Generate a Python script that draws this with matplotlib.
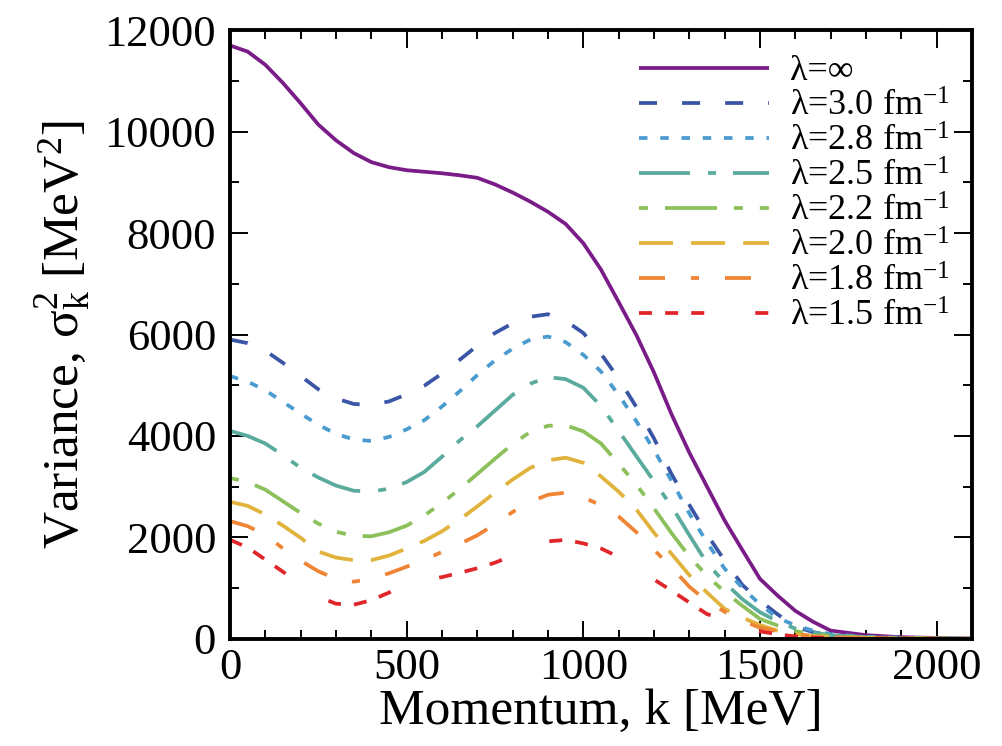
import matplotlib
matplotlib.use("Agg")
import matplotlib.pyplot as plt
from matplotlib.ticker import MultipleLocator

plt.rcParams['font.family'] = ['Liberation Serif', 'DejaVu Serif']
plt.rcParams['mathtext.fontset'] = 'custom'
plt.rcParams['mathtext.rm'] = 'Liberation Serif'
plt.rcParams['mathtext.it'] = 'Liberation Serif:italic'
plt.rcParams['lines.scale_dashes'] = False

# Momentum grid [MeV]
k = [0, 50, 100, 150, 200, 250, 300, 350, 400, 450, 500, 550, 600, 650, 700,
     750, 800, 850, 900, 950, 1000, 1050, 1100, 1150, 1200, 1250, 1300, 1350,
     1400, 1450, 1500, 1550, 1600, 1650, 1700, 1800, 1900, 2000, 2100]

# Variance sigma_k^2 [MeV^2] for each cutoff
var_inf = [11700, 11580, 11320, 10960, 10560, 10140, 9830, 9580, 9400, 9300, 9240,
           9210, 9180, 9140, 9090, 8960, 8800, 8620, 8420, 8180, 7800, 7280, 6640,
           5990, 5250, 4420, 3670, 3000, 2330, 1750, 1180, 850, 550, 335, 160,
           70, 30, 15, 5]
var_30 = [5900, 5830, 5680, 5440, 5180, 4920, 4740, 4630, 4610, 4680, 4820, 4990,
          5230, 5500, 5780, 6030, 6220, 6350, 6400, 6270, 6030, 5620, 5130, 4570,
          3950, 3240, 2640, 2060, 1540, 1060, 750, 480, 240, 130, 65, 30, 15, 8, 4]
var_28 = [5180, 5070, 4900, 4670, 4440, 4220, 4040, 3930, 3900, 3980, 4130, 4310,
          4580, 4880, 5200, 5490, 5720, 5900, 5960, 5850, 5600, 5270, 4810, 4290,
          3720, 3110, 2470, 1900, 1380, 1005, 675, 408, 265, 160, 90, 40, 20, 10, 5]
var_25 = [4100, 4000, 3850, 3620, 3370, 3180, 3020, 2920, 2900, 2960, 3090, 3290,
          3590, 3910, 4190, 4500, 4810, 5030, 5160, 5120, 4950, 4590, 4100, 3600,
          3105, 2610, 2044, 1488, 1108, 780, 522, 340, 200, 120, 70, 30, 15, 8, 4]
var_22 = [3170, 3090, 2940, 2710, 2480, 2270, 2110, 2030, 2020, 2100, 2230, 2430,
          2680, 2950, 3250, 3550, 3840, 4080, 4200, 4210, 4090, 3850, 3450, 3042,
          2571, 2080, 1622, 1239, 925, 649, 390, 260, 150, 90, 50, 25, 12, 6, 3]
var_20 = [2700, 2620, 2450, 2230, 1990, 1720, 1600, 1550, 1550, 1640, 1780, 1930,
          2120, 2350, 2610, 2880, 3140, 3370, 3520, 3570, 3470, 3200, 2900, 2550,
          2090, 1670, 1255, 910, 590, 415, 271, 158, 92, 55, 30, 15, 8, 4, 2]
var_18 = [2320, 2220, 2050, 1780, 1540, 1330, 1180, 1125, 1180, 1290, 1420, 1560,
          1710, 1870, 2040, 2260, 2500, 2700, 2840, 2880, 2790, 2630, 2410, 2102,
          1754, 1407, 1026, 739, 532, 355, 216, 150, 90, 50, 30, 15, 8, 4, 2]
var_15 = [1950, 1800, 1560, 1320, 1060, 830, 690, 670, 760, 910, 1090, 1160,
          1215, 1300, 1390, 1500, 1640, 1800, 1920, 1950, 1880, 1780, 1612, 1390,
          1168, 947, 714, 486, 375, 262, 145, 88, 45, 25, 15, 8, 4, 2, 1]

labels = [r'λ=∞', r'λ=3.0 fm$^{\mathregular{-1}}$', r'λ=2.8 fm$^{\mathregular{-1}}$',
          r'λ=2.5 fm$^{\mathregular{-1}}$', r'λ=2.2 fm$^{\mathregular{-1}}$',
          r'λ=2.0 fm$^{\mathregular{-1}}$', r'λ=1.8 fm$^{\mathregular{-1}}$',
          r'λ=1.5 fm$^{\mathregular{-1}}$']

series = [var_inf, var_30, var_28, var_25, var_22, var_20, var_18, var_15]
colors = ['#7a1c88', '#3b55a6', '#4a9bd0', '#5aab9d', '#8cc05a', '#e1b33c',
          '#ef8434', '#e1262b']
dash_patterns = [None,
                 (13, 18),
                 (6.1, 9.2),
                 (36.7, 13, 5.8, 12.2),
                 (6.5, 12.2, 37.4, 12.2, 6.5, 12.2),
                 (24.5, 13),
                 (18.7, 18.7, 5.8, 18.7),
                 (9.4, 9.4, 9.4, 9.4, 9.4, 36.7)]

fig = plt.figure(figsize=(10.03, 7.46), dpi=100)
ax = fig.add_axes([0.2293, 0.1438, 0.7398, 0.8156])

for y, c, d, lab in zip(series, colors, dash_patterns, labels):
    line, = ax.plot(k, y, color=c, lw=2.7, label=lab, solid_capstyle='butt',
                    dash_capstyle='butt')
    if d is not None:
        line.set_dashes(d)

ax.set_xlim(0, 2100)
ax.set_ylim(0, 12000)
ax.xaxis.set_major_locator(MultipleLocator(500))
ax.xaxis.set_minor_locator(MultipleLocator(100))
ax.yaxis.set_major_locator(MultipleLocator(2000))
ax.yaxis.set_minor_locator(MultipleLocator(1000))
ax.tick_params(which='both', direction='in', top=True, right=True, width=1.4,
               labelsize=32, color='black')
ax.tick_params(which='major', length=13, pad=7)
ax.tick_params(which='minor', length=6.5)
ax.tick_params(axis='y', which='major', pad=10)
for s in ax.spines.values():
    s.set_linewidth(2.8)

ax.set_xlabel('Momentum, k [MeV]', fontsize=37, labelpad=0)
ax.set_ylabel(r'Variance, σ$_{\mathregular{k}}^{\mathregular{2}}$ [MeV$^{\mathregular{2}}$]',
              fontsize=37, labelpad=8)

ax.legend(loc='upper right', frameon=False, fontsize=26, handlelength=3.6,
          handletextpad=0.6, labelspacing=0.05, borderaxespad=0.2,
          bbox_to_anchor=(1.0, 0.995))

fig.savefig('out.png', dpi=100)
